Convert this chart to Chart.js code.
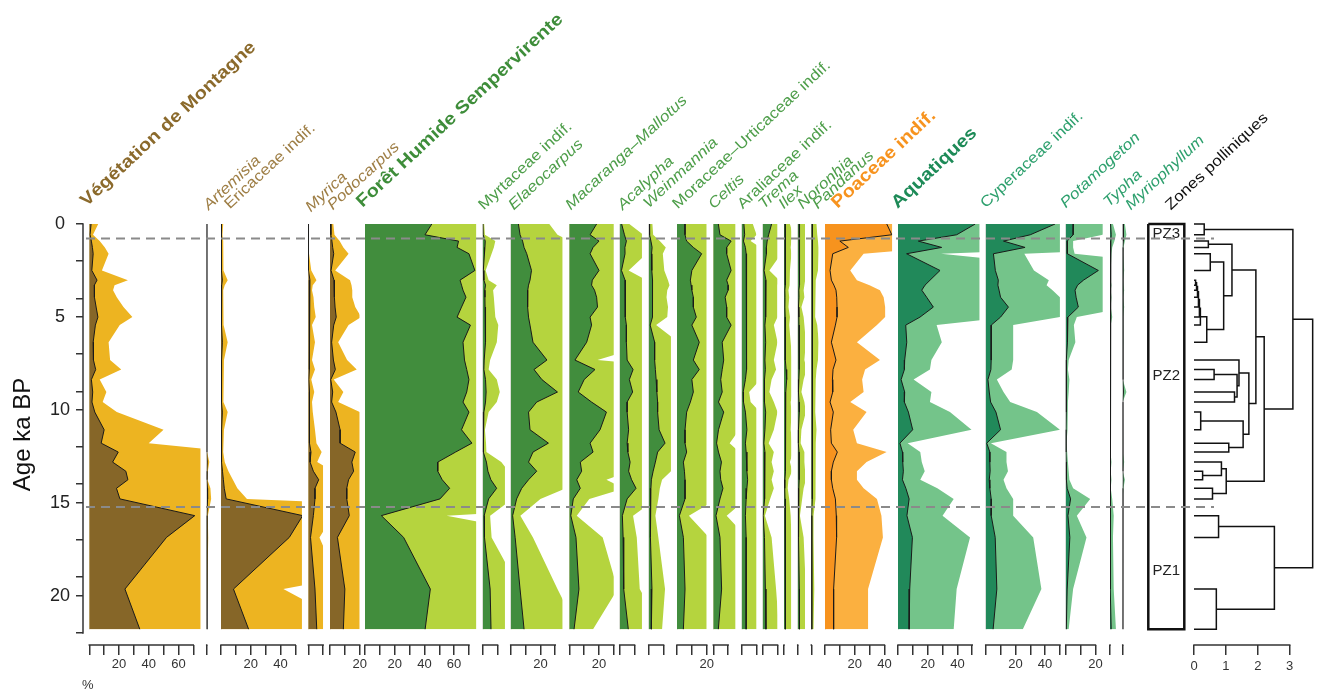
<!DOCTYPE html>
<html><head><meta charset="utf-8">
<script src="https://cdn.jsdelivr.net/npm/chart.js@4.4.1/dist/chart.umd.min.js"></script>
<style>
html,body{margin:0;padding:0;background:#fff;}
#stage{position:relative;width:1318px;height:691px;overflow:hidden;font-family:'Liberation Sans',Arial,sans-serif;}
#stage canvas{position:absolute;top:0;}
.hd{position:absolute;white-space:nowrap;line-height:1;transform-origin:0 100%;}
</style></head><body><div id="stage"></div>
<script>
// ---------------- DATA ----------------
const ages = [0.0,0.58,0.92,1.26,1.6,2.5,3.02,3.29,3.56,3.94,4.47,5.01,5.44,6.36,7.32,7.83,8.37,9.04,9.58,10.12,11.07,11.79,12.27,12.81,13.3,13.76,14.22,14.79,15.69,16.86,19.64,21.8];

const vegMontagne = [1.2,0.5,1.4,2.1,2.6,1.7,5.2,3.4,3.2,3.7,4.6,5.8,4.1,2.6,2.8,4.3,1.4,2.3,1.8,3.7,10,8,19.5,15.7,24.6,26,18.3,20.6,71,52,24,34];
const artemisia = [0,0,0,0,0,0,0,0,0,0,0,0,0,0,0,0,0,0,0,0,0,0,0.05,0.35,0.15,0.1,0.5,0.6,0.15,0.2,0.1,0];
const ericaceae = [0.3,0.2,0.3,0.3,0.3,0.4,0.9,0.5,0.3,0.3,0.4,0.4,0.3,0.9,0.4,0.3,0.3,0.3,0.4,0.9,0.4,0.3,0.3,0.5,1.0,1.6,2.2,3.5,55,46,8.4,18.6];
const myrica = [0,0,0.05,0.05,0.1,0.4,1.1,0.6,0.5,0.7,0.8,1.0,0.5,0.9,0.5,0.9,0.4,0.8,0.5,0.6,0.9,1.1,1.8,1.2,3.4,7,4.5,4.5,3.4,1.5,4.5,5.7];
const podocarpus = [0.45,0.6,1.3,1.8,2.5,0.7,2.7,2.9,3.0,3.0,3.4,4.2,2.5,1.1,2.3,3.6,0.5,1.8,1.1,4.0,6.8,6.8,17,14.7,15.9,12.5,11.3,11.3,13,5,10,9];
const foret = [45,40.4,63,62,70,74,64,65,66,68,65,62,71,66,67,68.5,70,68.5,66,70,65,72,61,49,49,52,57,50.5,11,26,44,40.5];
const myrtaceae = [0.2,0.3,1.7,1.5,1.2,0.4,0.8,1.9,1.4,1.5,1.6,1.7,2.1,1.9,1.0,0.8,1.9,2.3,1.9,0.8,0.3,0.45,0.5,2.5,3.5,5.5,9.4,4,1.0,1.2,5,5.6];
const elaeocarpus = [5.2,6.3,8.0,9.0,10.8,14,13,12,11.5,11.3,11.5,12,13,15,24.4,15.7,21,31.5,17.5,12,13,25.4,15,12,17.5,12,7.4,4,1.3,3,6.3,9];
const macaranga = [18.4,14,20,16,14,20,15.5,15,17,18.4,19,14,15,11.7,3.8,17.3,10,6,15,25,20.7,14,16,7.4,8.3,5,7.4,2.7,1.0,4.5,6.5,3.2];
const acalypha = [1.3,3.2,4.5,3.5,3.6,1.2,3.6,3.6,3.6,3.6,4,4,4.5,4.5,5,9,6.5,8.7,5,5,6,5,5.5,7,6,8,11,5,1.8,2.3,2.7,5.8];
const weinmannia = [0.5,0.6,1.5,2.3,1.9,2.1,2.6,2.8,2.5,2.4,2.6,2.5,1.0,4,4,4.5,5,5.5,6,6,7,11,6,4.5,3,1.8,1.5,1.3,0.9,1.3,2.2,1.8];
const moraceae = [5.4,5.4,6.5,11,16.6,10,9,9.5,10,11,11,13,10,15,11,15,10,11,9,6.5,5.4,5.4,6.5,4.3,5,5.4,5.4,5.4,1.6,4.3,5.4,4.3];
const celtis = [3.4,4.5,12,9,9,12,9,10,10,8,9,9,12,6,7,6,5,6,3.5,7,3.5,2.2,3.5,5.5,4.5,5,6.5,4.5,1.8,4.5,5.6,3.4];
const araliaceae = [1.5,2,1.2,2.5,3,3.5,3.5,3.5,3.5,3.5,3.5,3,3,3,3,3,2.5,1.0,1.2,2.5,3.5,2.5,3,3.5,3.5,4,3.5,3,2.5,3,3,3];
const trema = [6,4,3,2.5,2.5,0.9,2.2,2,2,2,2,2,1.5,2,1.5,1.8,1.2,0.9,1.5,2,1.5,0.8,1.5,1.2,1.5,1.2,1.5,1.0,0.3,1.2,1.8,2.2];
const ilex = [0.8,1.2,1,0.9,1,0.8,0.7,0.8,0.6,0.7,0.6,0.8,0.7,0.9,1.1,1.4,1.8,1.2,0.9,1,0.9,1.1,1.2,0.8,1.1,0.6,0.5,0.7,0.9,1,1,1];
const noronhia = [1,1.5,1.5,1.2,1.3,1.2,1.0,0.9,0.8,0.9,0.5,0.8,0.9,1.1,0.9,1.2,0.8,0.5,0.9,1.1,0.5,0.4,0.9,0.9,1,1.1,0.8,0.6,0.3,0.8,1.1,1.2];
const pandanus = [0.7,0.8,0.9,1,1,0.9,0.6,0.5,0.5,0.6,0.5,0.5,0.8,1,0.9,0.7,0.6,0.5,0.5,0.6,0.7,0.6,0.6,0.6,0.6,0.5,0.6,0.5,0.3,0.3,0.4,0.3];
const poaceae = [41.6,45,10,15.7,5.2,3.4,4.3,6,7.4,7.9,8.1,8.1,7,4.3,7.4,5.4,5,5.2,3.4,5.6,3.8,4.3,8.3,5.6,4.3,4.3,5.2,7,7.6,7.8,5.8,5.8];
const aquatiques = [52,39.5,13.7,29.4,5.8,28.3,21.6,18.2,16,19.3,23.8,14.8,5.2,5.9,4.5,4.3,2.1,4.5,4.3,7,9.9,1.3,3,3.2,3.6,3,5.3,7.5,6,9.7,7.9,7.5];
const cyperaceae = [46.7,30,12,26.5,5.2,6.5,8.5,8.2,9,10,15.3,10,3.7,3.7,3.7,3.5,1.5,2.4,3.3,6.9,10,0.7,2.8,2.8,3,2.4,2.8,3.7,3.7,6.4,7.5,5];
const potamogeton = [5.2,5,1,1.0,1.2,22,12,8,6.3,7,8.5,1.5,1.1,1.3,0.4,0.3,0.5,0.4,0.3,0.3,0.2,0.1,0.2,0.3,0.4,0.5,1.0,3.3,1.5,2.8,1,0.4];
const typha = [0.4,0.8,0.6,0.3,0.2,0.1,0.1,0.2,0.1,0.2,0.1,0.3,0.1,0.05,0.1,0.05,0.05,0.05,0.1,0.1,0.05,0.05,0.1,0.2,0.1,0.2,0.1,0.3,0.5,0.4,0.5,0.8];
const myriophyllum = [0.3,0.5,0.3,0.1,0.05,0.2,0.05,0.1,0.2,0.05,0.2,0.05,0.1,0.05,0,0,0,0.5,0,0,0,0.05,0,0.2,0,0.3,0.1,0,0,0,0,0];

const EXAG = 5;                       // exaggeration factor of the light curves
const zoneBoundaries = [0.78, 15.22];
const zoneNames = ['PZ3','PZ2','PZ1'];
const ageTicks = [0,2,4,5,7,9,10,12,14,15,17,19,20,22];
const ageTickLabels = [0,5,10,15,20];
const pctLabelEvery = 20;
const dendroTicks = [0,1,2,3];
// CONISS merges (hclust convention: negative = sample number, positive = merge number), with total dispersion
const dendroMerges = [
 [-1,-2,0.32],[-3,-4,0.45],[-5,-6,0.51],[-7,-8,0.05],[4,-9,0.08],[5,-10,0.11],[6,-11,0.14],[7,-12,0.17],
 [8,-13,0.2],[9,-14,0.4],[3,10,0.93],[2,11,1.19],[-16,-17,0.63],[-18,-19,1.27],[13,14,1.35],[-15,15,1.41],
 [-20,-21,0.21],[-22,-23,1.09],[17,18,1.54],[16,19,1.72],[12,20,1.94],[-25,-26,0.27],[-24,22,0.86],
 [-27,-28,0.58],[23,24,1.01],[21,25,2.2],[1,26,3.1],[-29,-30,0.77],[-31,-32,0.7],[28,29,2.52],[27,30,3.72]
];

// ---------------- LAYOUT / STYLE ----------------
const W = 1318, H = 691, TOP = 224, AXIS_H = 46, AGE_MAX = 22.65, PX_PER_PCT = 1.485, SIDE = 16, HEAD_DX = 7;
Chart.defaults.font.family = "'Liberation Sans', Arial, sans-serif";
const palette = {
  mont:{dark:'#866628', light:'#EDB421'},
  foret:{dark:'#418D3D', light:'#B5D43E'},
  poa:{dark:'#F7931E', light:'#FBB040'},
  aqua:{dark:'#21895A', light:'#74C48A'}
};
const panelLayout = [
 {values:vegMontagne, pal:'mont', x0:89.3, xmax:75},
 {values:artemisia, pal:'mont', x0:206.7, xmax:5},
 {values:ericaceae, pal:'mont', x0:221, xmax:54.5},
 {values:myrica, pal:'mont', x0:308.3, xmax:10},
 {values:podocarpus, pal:'mont', x0:330, xmax:20},
 {values:foret, pal:'foret', x0:365, xmax:75},
 {values:myrtaceae, pal:'foret', x0:482.7, xmax:15},
 {values:elaeocarpus, pal:'foret', x0:510.7, xmax:35},
 {values:macaranga, pal:'foret', x0:569.3, xmax:30},
 {values:acalypha, pal:'foret', x0:619.7, xmax:15},
 {values:weinmannia, pal:'foret', x0:648.7, xmax:15},
 {values:moraceae, pal:'foret', x0:677, xmax:20},
 {values:celtis, pal:'foret', x0:713.3, xmax:15},
 {values:araliaceae, pal:'foret', x0:741.7, xmax:10},
 {values:trema, pal:'foret', x0:762.7, xmax:10},
 {values:ilex, pal:'foret', x0:784, xmax:5},
 {values:noronhia, pal:'foret', x0:797.7, xmax:5},
 {values:pandanus, pal:'foret', x0:811.3, xmax:5},
 {values:poaceae, pal:'poa', x0:825, xmax:45.3},
 {values:aquatiques, pal:'aqua', x0:898, xmax:55},
 {values:cyperaceae, pal:'aqua', x0:985.7, xmax:50},
 {values:potamogeton, pal:'aqua', x0:1065.7, xmax:25},
 {values:typha, pal:'aqua', x0:1110, xmax:5},
 {values:myriophyllum, pal:'aqua', x0:1122.7, xmax:3}
];
const headColors = {montT:'#8B6A2C', mont:'#9E7E45', foretT:'#3E8D3A', foret:'#4E9E4A', poaT:'#F7931E', aquaT:'#1D8A57', aqua:'#2EA06E', k:'#111'};
const headers = [
 {t:'Végétation de Montagne', c:'montT', b:1, x:81.7, y:207},
 {t:'Artemisia', c:'mont', i:1, x:203.3, y:210},
 {t:'Ericaceae indif.', c:'mont', x:224, y:209},
 {t:'Myrica', c:'mont', i:1, x:305, y:212},
 {t:'Podocarpus', c:'mont', i:1, x:326.7, y:210},
 {t:'Forêt Humide Sempervirente', c:'foretT', b:1, x:358, y:208},
 {t:'Myrtaceae indif.', c:'foret', x:478, y:210},
 {t:'Elaeocarpus', c:'foret', i:1, x:508, y:210},
 {t:'Macaranga–Mallotus', c:'foret', i:1, x:565, y:210},
 {t:'Acalypha', c:'foret', i:1, x:616.7, y:210},
 {t:'Weinmannia', c:'foret', i:1, x:643, y:208},
 {t:'Moraceae–Urticaceae indif.', c:'foret', x:671.7, y:209},
 {t:'Celtis', c:'foret', i:1, x:708, y:209},
 {t:'Araliaceae indif.', c:'foret', x:736.7, y:209},
 {t:'Trema', c:'foret', i:1, x:758, y:209},
 {t:'Ilex', c:'foret', i:1, x:778, y:209},
 {t:'Noronhia', c:'foret', i:1, x:796.7, y:209},
 {t:'Pandanus', c:'foret', i:1, x:811.7, y:209},
 {t:'Poaceae indif.', c:'poaT', b:1, x:833, y:209},
 {t:'Aquatiques', c:'aquaT', b:1, x:893, y:209},
 {t:'Cyperaceae indif.', c:'aqua', x:980, y:208},
 {t:'Potamogeton', c:'aqua', i:1, x:1060, y:208},
 {t:'Typha', c:'aqua', i:1, x:1103, y:207},
 {t:'Myriophyllum', c:'aqua', i:1, x:1125, y:210},
 {t:'Zones polliniques', c:'k', x:1165, y:210}
];

const stage = document.getElementById('stage');
function makeCanvas(left, width) {
  const c = document.createElement('canvas');
  c.width = width; c.height = H;
  c.style.left = left + 'px'; c.style.width = width + 'px'; c.style.height = H + 'px';
  stage.appendChild(c); return c;
}
// draws the axis line only between the first and last tick
const tickSpanLine = {
  id:'tickSpanLine',
  afterDraw(chart, args, opts) {
    const ctx = chart.ctx;
    (opts.axes || []).forEach(id => {
      const s = chart.scales[id];
      if (!s || !s.ticks.length) return;
      const a = s.getPixelForValue(s.ticks[0].value), b = s.getPixelForValue(s.ticks[s.ticks.length-1].value);
      ctx.save(); ctx.strokeStyle = '#333'; ctx.lineWidth = 1.5; ctx.lineCap = 'square';
      ctx.beginPath();
      if (s.isHorizontal()) { ctx.moveTo(a, s.top); ctx.lineTo(b, s.top); }
      else { ctx.moveTo(s.right, a); ctx.lineTo(s.right, b); }
      ctx.stroke(); ctx.restore();
    });
  }
};
const baseOpts = (padL, padR, padB) => ({
  responsive:false, animation:false, events:[],
  layout:{padding:{top:TOP, bottom:padB, left:padL, right:padR}},
  plugins:{legend:{display:false}, tooltip:{enabled:false}}
});
const ageScale = extra => Object.assign({type:'linear', min:0, max:AGE_MAX, reverse:true, display:false}, extra || {});

// ---------------- AGE AXIS ----------------
(function(){
  const c = makeCanvas(0, 92);
  const o = baseOpts(0, 0, AXIS_H);
  o.plugins.tickSpanLine = {axes:['y']};
  o.scales = {
    x:{type:'linear', display:false},
    y:ageScale({display:true, position:'left',
      afterBuildTicks: s => { s.ticks = ageTicks.map(v => ({value:v})); },
      afterFit: s => { s.width = 83; },
      grid:{drawOnChartArea:false, tickLength:7, color:'#333', lineWidth:1.5},
      border:{display:false},
      ticks:{autoSkip:false, crossAlign:'center', padding:6, font:{size:18}, color:'#222',
        callback: v => ageTickLabels.includes(v) ? String(v) : ''},
      title:{display:true, text:'Age ka BP', font:{size:24}, color:'#111', padding:{top:9, bottom:0}}
    })
  };
  new Chart(c, {type:'line', data:{datasets:[]}, options:o, plugins:[tickSpanLine]});
})();

// ---------------- POLLEN PANELS ----------------
panelLayout.forEach(p => {
  const xRight = p.x0 + p.xmax * PX_PER_PCT;
  const cl = Math.floor(p.x0) - SIDE;
  const cw = Math.ceil(xRight) + SIDE - cl;
  const col = palette[p.pal];
  const c = makeCanvas(cl, cw);
  const ticks = [];
  for (let t = 0; t <= p.xmax + 1e-9; t += 10) ticks.push(t);
  const o = baseOpts(p.x0 - cl, cl + cw - xRight, 0);
  o.indexAxis = 'y';
  o.plugins.tickSpanLine = {axes:['x']};
  o.scales = {
    y:ageScale(),
    x:{type:'linear', min:0, max:p.xmax, position:'bottom',
      afterBuildTicks: s => { s.ticks = ticks.map(v => ({value:v})); },
      afterFit: s => { s.height = AXIS_H; },
      grid:{display:true, drawOnChartArea:false, drawTicks:true, tickLength:10, color:'#333', lineWidth:1.5},
      border:{display:false},
      ticks:{autoSkip:false, maxRotation:0, padding:2, font:{size:13}, color:'#333',
        callback: v => (v > 0 && v % pctLabelEvery === 0) ? String(v) : ''}
    }
  };
  new Chart(c, {
    type:'line',
    data:{datasets:[
      {data:p.values.map((v,i) => ({x:v, y:ages[i]})), borderColor:'#1a1a1a', borderWidth:1,
       backgroundColor:col.dark, fill:'origin', pointRadius:0, tension:0, order:1},
      {data:p.values.map((v,i) => ({x:v*EXAG, y:ages[i]})), borderColor:'rgba(0,0,0,0)', borderWidth:0,
       backgroundColor:col.light, fill:'origin', pointRadius:0, tension:0, order:2},
      {data:[{x:0, y:ages[0]}, {x:0, y:ages[ages.length-1]}], borderColor:'#9a9a9a', borderWidth:1.5,
       pointRadius:0, fill:false, order:3}
    ]},
    options:o, plugins:[tickSpanLine]
  });
});

// ---------------- ZONES ----------------
(function(){
  const left = 1140, width = 60, x0 = 1148.3, x1 = 1184.3;
  const c = makeCanvas(left, width);
  const a0 = ages[0], aN = ages[ages.length-1];
  const bounds = [a0, ...zoneBoundaries, aN];
  const zoneLabels = {id:'zoneLabels', afterDraw(chart){
    const {ctx, scales:{x, y}} = chart;
    ctx.save(); ctx.font = "15px 'Liberation Sans', Arial, sans-serif"; ctx.fillStyle = '#222';
    ctx.textAlign = 'center'; ctx.textBaseline = 'middle';
    zoneNames.forEach((n, i) => ctx.fillText(n, x.getPixelForValue(0.5), y.getPixelForValue((bounds[i] + bounds[i+1]) / 2) + 3));
    ctx.restore();
  }};
  const o = baseOpts(x0 - left, left + width - x1, AXIS_H);
  o.scales = {x:{type:'linear', min:0, max:1, display:false}, y:ageScale()};
  new Chart(c, {type:'line', data:{datasets:[
    {data:[{x:0,y:a0},{x:1,y:a0},{x:1,y:aN},{x:0,y:aN},{x:0,y:a0}], borderColor:'#111', borderWidth:2.5,
     pointRadius:0, fill:false, tension:0, clip:false}
  ]}, options:o, plugins:[zoneLabels]});
})();

// ---------------- DENDROGRAM ----------------
(function(){
  const left = 1180, width = W - 1180, hx0 = 1194, pxPerUnit = 31.9, hMax = 3.85;
  const c = makeCanvas(left, width);
  const nodes = [];
  const pos = r => r < 0 ? {h:0, y:ages[-r-1]} : nodes[r-1];
  const datasets = dendroMerges.map(([a, b, h]) => {
    const A = pos(a), B = pos(b);
    nodes.push({h, y:(A.y + B.y) / 2});
    return {data:[{x:A.h,y:A.y},{x:h,y:A.y},{x:h,y:B.y},{x:B.h,y:B.y}], borderColor:'#111', borderWidth:1.5,
            pointRadius:0, fill:false, tension:0, clip:false};
  });
  const o = baseOpts(hx0 - left, left + width - (hx0 + hMax * pxPerUnit), 0);
  o.plugins.tickSpanLine = {axes:['x']};
  o.scales = {
    y:ageScale(),
    x:{type:'linear', min:0, max:hMax, position:'bottom',
      afterBuildTicks: s => { s.ticks = dendroTicks.map(v => ({value:v})); },
      afterFit: s => { s.height = AXIS_H; },
      grid:{display:true, drawOnChartArea:false, tickLength:10, color:'#333', lineWidth:1.5},
      border:{display:false},
      ticks:{autoSkip:false, maxRotation:0, padding:4, font:{size:13}, color:'#333'}
    }
  };
  new Chart(c, {type:'line', data:{datasets}, options:o, plugins:[tickSpanLine]});
})();

// ---------------- ZONE BOUNDARY DASHED LINES (overlay) ----------------
(function(){
  const c = makeCanvas(0, W);
  const o = baseOpts(86, W - 1214, AXIS_H);
  o.scales = {x:{type:'linear', min:0, max:1, display:false}, y:ageScale()};
  new Chart(c, {type:'line', data:{datasets: zoneBoundaries.map(b => ({
    data:[{x:0,y:b},{x:1,y:b}], borderColor:'#8a8a8a', borderWidth:2, borderDash:[9,6], pointRadius:0, fill:false
  }))}, options:o});
})();

// ---------------- HEADERS (rotated text) ----------------
headers.forEach(h => {
  const d = document.createElement('div');
  const fs = h.b ? 17.5 : 15;
  d.className = 'hd';
  d.textContent = h.t;
  d.style.fontSize = fs + 'px';
  d.style.fontWeight = h.b ? 'bold' : 'normal';
  d.style.fontStyle = h.i ? 'italic' : 'normal';
  d.style.color = headColors[h.c];
  d.style.left = (h.x + HEAD_DX) + 'px';
  d.style.top = (h.y - fs + 2) + 'px';
  d.style.transform = 'rotate(-43deg) scaleX(1.15)';
  stage.appendChild(d);
});
const pct = document.createElement('div');
pct.textContent = '%';
pct.style.cssText = 'position:absolute;left:82px;top:677px;font-size:13px;color:#333;';
stage.appendChild(pct);
</script></body></html>
